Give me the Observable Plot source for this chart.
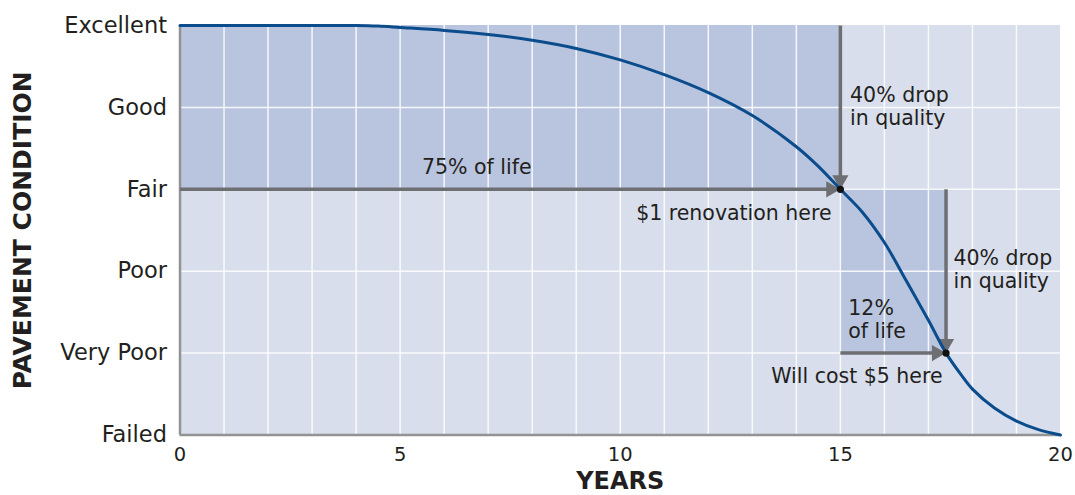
<!DOCTYPE html>
<html>
<head>
<meta charset="utf-8">
<script src="https://cdn.jsdelivr.net/npm/d3@7"></script>
<script src="https://cdn.jsdelivr.net/npm/@observablehq/plot@0.6"></script>
<style>
  html, body { margin: 0; padding: 0; background: #ffffff; }
  #chart svg { display: block; }
</style>
</head>
<body>
<div id="chart"></div>
<script>
// ---- Data ----
const years     = [0, 1, 2, 3, 4, 4.5, 5, 6, 7, 8, 9, 10, 11, 12, 13, 14, 14.5, 15, 15.5, 16, 16.5, 17, 17.4, 17.75, 18, 18.5, 19, 19.5, 20];
const condition = [5, 5, 5, 5, 5, 4.993, 4.976, 4.94, 4.89, 4.82, 4.72, 4.58, 4.40, 4.18, 3.90, 3.52, 3.28, 3.0, 2.72, 2.35, 1.88, 1.40, 1.0, 0.73, 0.56, 0.33, 0.17, 0.065, 0];
const levelLabels = ["Failed", "Very Poor", "Poor", "Fair", "Good", "Excellent"];
const levelValues = [0, 1, 2, 3, 4, 5];
const yearTicks = [0, 5, 10, 15, 20];
const gridYears = [1, 2, 3, 4, 5, 6, 7, 8, 9, 10, 11, 12, 13, 14, 15, 16, 17, 18, 19];
const gridLevels = [1, 2, 3, 4];

// renovation points (year, condition)
const keyYears = [15, 17.4];
const keyConditions = [3, 1];

// shaded spans
const shadeX1 = [0, 15];
const shadeX2 = [15, 17.4];
const shadeY1 = [3, 1];
const shadeY2 = [5, 3];

// arrows: horizontal (x from -> to at level) and vertical (level from -> to at year)
const hArrowFrom = [0, 15];
const hArrowTo = [15, 17.4];
const hArrowLevel = [3, 1];
const vArrowFrom = [5, 3];
const vArrowTo = [3, 1];
const vArrowYear = [15, 17.4];

// annotations
const noteTexts = ["75% of life", "$1 renovation here", "40% drop\nin quality", "40% drop\nin quality", "12%\nof life", "Will cost $5 here"];
const noteYears = [6.74, 14.8, 15.22, 17.57, 15.18, 17.32];
const noteConds = [3.19, 2.62, 3.79, 1.80, 1.19, 0.63];
const noteAnchors = ["middle", "end", "start", "start", "start", "end"];

const xTitle = "YEARS";
const yTitle = "PAVEMENT CONDITION";

// ---- Build tables ----
const curve = years.map((x, i) => ({x, y: condition[i]}));
const shades = shadeX1.map((x1, i) => ({x1, x2: shadeX2[i], y1: shadeY1[i], y2: shadeY2[i]}));
const hArrows = hArrowFrom.map((x1, i) => ({x1, x2: hArrowTo[i], y: hArrowLevel[i]}));
const vArrows = vArrowFrom.map((y1, i) => ({y1, y2: vArrowTo[i], x: vArrowYear[i]}));
const keyPoints = keyYears.map((x, i) => ({x, y: keyConditions[i]}));
const notes = noteTexts.map((t, i) => ({t, x: noteYears[i], y: noteConds[i], a: noteAnchors[i]}));

const LIGHT = "#d8deeb";
const DARK = "#b9c5de";
const ARROW = "#6e6f72";
const AXIS = "#929292";
const CURVE = "#0b4c8c";
const INK = "#231f20";
const HEAD = 4.7;
const headR = Math.sqrt(HEAD * HEAD * 3 * Math.sqrt(3) / Math.PI);
const headOff = 2 * HEAD;

const noteMark = (anchor) => Plot.text(notes.filter(d => d.a === anchor), {
  x: "x", y: "y", text: "t", textAnchor: anchor, lineAnchor: "bottom",
  fontSize: 20.5, lineHeight: 1.1, fill: INK
});

const chart = Plot.plot({
  width: 1075,
  height: 495,
  marginTop: 25,
  marginBottom: 60.5,
  marginLeft: 179.5,
  marginRight: 15,
  style: {fontFamily: "DejaVu Sans", background: "#ffffff", color: INK, overflow: "visible"},
  x: {domain: [0, 20]},
  y: {domain: [0, 5]},
  marks: [
    Plot.rect([0], {x1: 0, x2: 20, y1: 0, y2: 5, fill: LIGHT}),
    Plot.rect(shades, {x1: "x1", x2: "x2", y1: "y1", y2: "y2", fill: DARK}),
    Plot.ruleX(gridYears, {y1: 0, y2: 5, stroke: "#ffffff", strokeWidth: 1.5, strokeOpacity: 0.85}),
    Plot.ruleY(gridLevels, {x1: 0, x2: 20, stroke: "#ffffff", strokeWidth: 1.5, strokeOpacity: 0.85}),
    Plot.ruleX([0], {y1: 0, y2: 5, stroke: AXIS, strokeWidth: 2.5}),
    Plot.ruleY([0], {x1: 0, x2: 20, stroke: AXIS, strokeWidth: 2.5}),
    Plot.axisX({ticks: yearTicks, tickSize: 0, tickPadding: 12, fontSize: 19.5, label: null}),
    Plot.axisY({ticks: levelValues, tickFormat: d => levelLabels[d], tickSize: 0, tickPadding: 13, fontSize: 22.5, label: null}),
    // arrow shafts
    Plot.link(hArrows, {x1: "x1", x2: "x2", y1: "y", y2: "y", stroke: ARROW, strokeWidth: 3.5}),
    Plot.link(vArrows, {x1: "x", x2: "x", y1: "y1", y2: "y2", stroke: ARROW, strokeWidth: 3.5}),
    // arrow heads
    Plot.dot(keyPoints, {x: "x", y: "y", symbol: "triangle", r: headR, rotate: 90, dx: -headOff, fill: ARROW, stroke: null}),
    Plot.dot(keyPoints, {x: "x", y: "y", symbol: "triangle", r: headR, rotate: 180, dy: -headOff, fill: ARROW, stroke: null}),
    // curve
    Plot.line(curve, {x: "x", y: "y", curve: "catmull-rom", stroke: CURVE, strokeWidth: 3}),
    Plot.dot(keyPoints, {x: "x", y: "y", r: 3.6, fill: "#111111", stroke: null}),
    // annotations
    noteMark("middle"),
    noteMark("end"),
    noteMark("start"),
    // axis titles
    Plot.text([xTitle], {x: 10, y: 0, text: d => d, dy: 54, lineAnchor: "bottom", textAnchor: "middle", fontSize: 24, fontWeight: "bold", fill: INK}),
    Plot.text([yTitle], {x: 0, y: 2.5, text: d => d, dx: -157.5, rotate: -90, lineAnchor: "middle", textAnchor: "middle", fontSize: 25, fontWeight: "bold", fill: INK})
  ]
});

document.getElementById("chart").appendChild(chart);
</script>
</body>
</html>
